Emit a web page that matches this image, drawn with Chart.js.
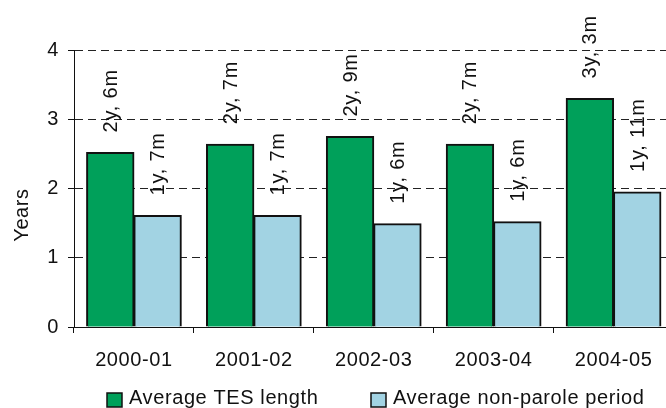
<!DOCTYPE html>
<html>
<head>
<meta charset="utf-8">
<script src="https://cdn.jsdelivr.net/npm/chart.js@4/dist/chart.umd.min.js"></script>
<style>
  html, body { margin: 0; padding: 0; background: #fff; overflow: hidden; }
  #wrap { width: 680px; height: 408px; }
</style>
</head>
<body>
<div id="wrap"><canvas id="tesChart" width="680" height="408"></canvas></div>
<script>
// --- data ---
const categories = ['2000-01', '2001-02', '2002-03', '2003-04', '2004-05'];
const tesLength = [2.52, 2.64, 2.75, 2.64, 3.30];
const nonParole = [1.61, 1.61, 1.49, 1.52, 1.95];
const tesLabels = ['2y, 6m', '2y, 7m', '2y, 9m', '2y, 7m', '3y, 3m'];
const nonParoleLabels = ['1y, 7m', '1y, 7m', '1y, 6m', '1y, 6m', '1y, 11m'];
const seriesNames = ['Average TES length', 'Average non-parole period'];
const seriesColors = ['#00a05a', '#a2d3e3'];

const FONT = '20px "Liberation Sans", Arial, sans-serif';
const INK = '#111111';
const SPACING = '0.6px';

// a bit of letter spacing, the original text is wide
const spacingPlugin = {
    id: 'spacing',
    beforeUpdate(chart) { chart.ctx.letterSpacing = SPACING; },
    beforeLayout(chart) { chart.ctx.letterSpacing = SPACING; },
    beforeDraw(chart) { chart.ctx.letterSpacing = SPACING; }
};

// rotated value labels above each bar
const barLabelPlugin = {
    id: 'barLabels',
    afterDatasetsDraw(chart) {
        const ctx = chart.ctx;
        const texts = [tesLabels, nonParoleLabels];
        ctx.save();
        ctx.font = FONT;
        ctx.letterSpacing = '0.8px';
        ctx.fillStyle = INK;
        ctx.textAlign = 'left';
        ctx.textBaseline = 'middle';
        chart.data.datasets.forEach((ds, di) => {
            chart.getDatasetMeta(di).data.forEach((bar, i) => {
                ctx.save();
                ctx.translate(bar.x + 1, bar.y - 20);
                ctx.rotate(-Math.PI / 2);
                ctx.fillText(texts[di][i], 0, 0);
                ctx.restore();
            });
        });
        ctx.restore();
    }
};

// axis title and legend
const extrasPlugin = {
    id: 'extras',
    afterDraw(chart) {
        const ctx = chart.ctx;
        ctx.save();
        ctx.font = FONT;
        ctx.fillStyle = INK;

        ctx.save();
        ctx.translate(22, 215);
        ctx.rotate(-Math.PI / 2);
        ctx.textAlign = 'center';
        ctx.textBaseline = 'middle';
        ctx.fillText('Years', 0, 0);
        ctx.restore();

        const boxX = [107, 371];
        const textX = [129, 393];
        ctx.textAlign = 'left';
        ctx.textBaseline = 'alphabetic';
        seriesNames.forEach((name, i) => {
            ctx.fillStyle = seriesColors[i];
            ctx.fillRect(boxX[i], 393, 15, 14);
            ctx.strokeStyle = INK;
            ctx.lineWidth = 1.5;
            ctx.strokeRect(boxX[i], 393, 15, 14);
            ctx.fillStyle = INK;
            ctx.fillText(name, textX[i], 404);
        });
        ctx.restore();
    }
};

Chart.defaults.font.family = '"Liberation Sans", Arial, sans-serif';
Chart.defaults.font.size = 20;
Chart.defaults.color = INK;

const tesChart = new Chart(document.getElementById('tesChart'), {
    type: 'bar',
    data: {
        labels: categories,
        datasets: [
            { label: seriesNames[0], data: tesLength, backgroundColor: seriesColors[0], borderColor: INK, borderWidth: 2, inflateAmount: 0.5 },
            { label: seriesNames[1], data: nonParole, backgroundColor: seriesColors[1], borderColor: INK, borderWidth: 2, inflateAmount: 0.5 }
        ]
    },
    options: {
        responsive: false,
        animation: false,
        categoryPercentage: 0.79,
        barPercentage: 1,
        layout: { padding: { top: 50, left: 0, right: 6.5, bottom: 0 } },
        plugins: { legend: { display: false }, tooltip: { enabled: false } },
        scales: {
            x: {
                afterFit(scale) { scale.height = 81; },
                grid: { display: true, drawOnChartArea: false, drawTicks: true, tickLength: 6, tickColor: INK, offset: true },
                border: { display: true, color: INK, width: 1 },
                ticks: { padding: 15, color: INK, maxRotation: 0 }
            },
            y: {
                min: 0,
                max: 4,
                afterFit(scale) { scale.width = 74; },
                ticks: { stepSize: 1, padding: 9, color: INK },
                grid: {
                    color: c => (c.tick && c.tick.value === 0) ? 'rgba(0,0,0,0)' : '#222',
                    lineWidth: 1,
                    tickColor: INK,
                    tickLength: 6,
                    tickBorderDash: []
                },
                border: { display: true, color: INK, width: 1, dash: [8, 5] }
            }
        }
    },
    plugins: [spacingPlugin, barLabelPlugin, extrasPlugin]
});
</script>
</body>
</html>
